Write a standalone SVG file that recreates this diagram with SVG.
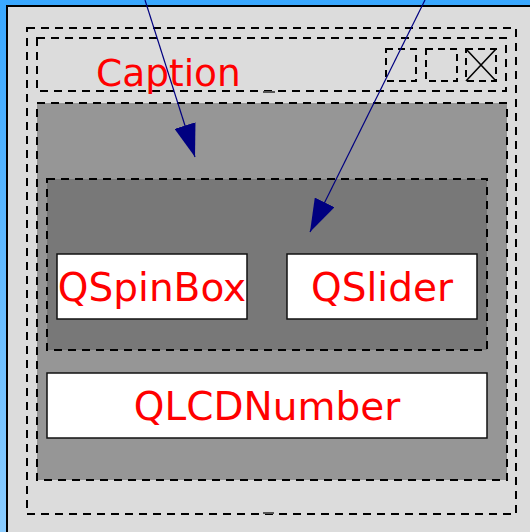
<svg xmlns="http://www.w3.org/2000/svg" width="530" height="532" viewBox="0 0 530 532">
  <defs>
    <linearGradient id="desk" x1="0" y1="0" x2="0" y2="1">
      <stop offset="0" stop-color="#3aa8ff"/>
      <stop offset="1" stop-color="#8accff"/>
    </linearGradient>
    <marker id="arrow" viewBox="0 0 33 22" refX="33" refY="11" markerWidth="33" markerHeight="22" markerUnits="userSpaceOnUse" orient="auto">
      <path d="M0,0 L33,11 L0,22 z" fill="#000080"/>
    </marker>
  </defs>
  <style>
    .dash { fill: none; stroke: #000; stroke-width: 2; stroke-dasharray: 8 6; }
    .btn { fill: none; stroke: #000; stroke-width: 2; stroke-dasharray: 7 5; }
    .widget { fill: #fff; stroke: #111; stroke-width: 1.5; }
    .label { font-family: "DejaVu Sans", sans-serif; font-size: 39px; fill: #ff0000; }
    .conn { fill: none; stroke: #000080; stroke-width: 1.2; marker-end: url(#arrow); }
  </style>

  <!-- desktop background -->
  <rect x="0" y="0" width="530" height="532" fill="url(#desk)"/>

  <!-- window frame -->
  <g id="window">
    <rect x="7" y="6" width="540" height="540" fill="#dcdcdc" stroke="#000" stroke-width="2"/>
    <rect class="dash" x="27" y="28" width="489" height="486"/>
    <rect x="263" y="512" width="11" height="2" fill="#555"/>
  </g>

  <!-- title bar -->
  <g id="titlebar">
    <rect class="dash" x="37" y="38" width="469" height="53"/>
    <rect x="263" y="91" width="12" height="2" fill="#555"/>
    <text class="label" x="96" y="86" style="font-size:37.5px">Caption</text>
    <g id="btn-minimize">
      <rect class="btn" x="386" y="49" width="30" height="32"/>
    </g>
    <g id="btn-maximize">
      <rect class="btn" x="426" y="49" width="31" height="32"/>
    </g>
    <g id="btn-close">
      <rect class="btn" x="466" y="49" width="30" height="32"/>
      <path d="M466,49 L496,81 M496,49 L466,81" stroke="#000" stroke-width="1.6" fill="none"/>
    </g>
  </g>

  <!-- central widget -->
  <g id="central">
    <rect x="37" y="103" width="470" height="377" fill="#969696"/>
    <rect class="dash" x="37" y="103" width="470" height="377"/>
  </g>

  <!-- horizontal layout -->
  <g id="hlayout">
    <rect x="47" y="179" width="440" height="171" fill="#787878"/>
    <rect class="dash" x="47" y="179" width="440" height="171"/>
  </g>

  <g id="qspinbox">
    <rect class="widget" x="57" y="254" width="190" height="65"/>
    <text class="label" x="152" y="301" text-anchor="middle">QSpinBox</text>
  </g>

  <g id="qslider">
    <rect class="widget" x="287" y="254" width="190" height="65"/>
    <text class="label" x="382" y="301" text-anchor="middle">QSlider</text>
  </g>

  <g id="qlcdnumber">
    <rect class="widget" x="47" y="373" width="440" height="65"/>
    <text class="label" x="267" y="420" text-anchor="middle">QLCDNumber</text>
  </g>

  <!-- connectors -->
  <g id="connectors">
    <line class="conn" x1="145" y1="0" x2="195" y2="157"/>
    <line class="conn" x1="425" y1="0" x2="310" y2="232"/>
  </g>
</svg>
